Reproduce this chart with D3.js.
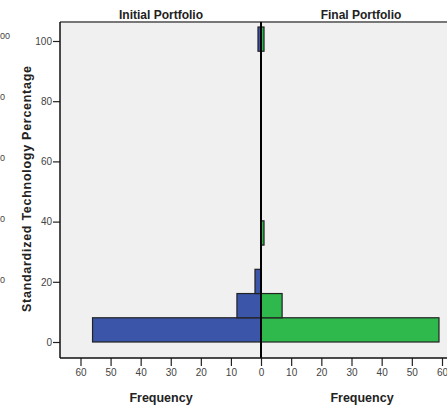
<!DOCTYPE html>
<html><head><meta charset="utf-8">
<script src="https://cdn.jsdelivr.net/npm/d3@7"></script>
<style>body{margin:0;background:#fff}svg{display:block}text{font-family:"Liberation Sans",Arial,sans-serif}</style>
</head><body>
<svg id="c" width="447" height="407"></svg>
<script>
// Data
const binStarts = [0, 8.05, 16.1, 32.2, 96.6];
const binWidth = 8.05;
const initialFreq = [56, 8, 2, 0, 1];
const finalFreq = [59, 7, 0, 1, 1];
const yTicks = [0, 20, 40, 60, 80, 100];
const xTicks = [0, 10, 20, 30, 40, 50, 60];
const panelTitles = ["Initial Portfolio", "Final Portfolio"];
const ghostLabels = ["00", "0", "0", "0", "0"]; // visible remains of a neighbouring panel's labels

const svg = d3.select("#c");
const plotL = 60, plotT = 22, plotB = 358, plotR = 447, cx = 261;

const y = d3.scaleLinear().domain([0, 100]).range([342, 41]);
const xL = d3.scaleLinear().domain([0, 60]).range([cx, 80.5]);
const xR = d3.scaleLinear().domain([0, 60]).range([cx, 442]);

// ghost labels of neighbouring panel (cropped)
svg.append("g").selectAll("text").data(ghostLabels).join("text")
  .attr("x", 0).attr("y", (d, i) => 39 + i * 61)
  .attr("font-size", 9).attr("fill", "#444").text(d => d);

// plot background
svg.append("rect").attr("x", plotL).attr("y", plotT).attr("width", plotR - plotL + 5).attr("height", plotB - plotT)
  .attr("fill", "#f0f0f0");

// title strip line
svg.append("line").attr("x1", plotL).attr("x2", plotR + 5).attr("y1", plotT).attr("y2", plotT)
  .attr("stroke", "#777").attr("stroke-width", 2);

// panel titles
svg.append("text").attr("x", 161).attr("y", 19).attr("text-anchor", "middle")
  .attr("font-size", 12).attr("font-weight", "bold").attr("fill", "#222").text(panelTitles[0]);
svg.append("text").attr("x", 361).attr("y", 19).attr("text-anchor", "middle")
  .attr("font-size", 12).attr("font-weight", "bold").attr("fill", "#222").text(panelTitles[1]);

const bins = binStarts.map((s, i) => ({s, a: initialFreq[i], b: finalFreq[i]}));

// Initial (blue, left)
svg.append("g").selectAll("rect").data(bins.filter(d => d.a > 0)).join("rect")
  .attr("x", d => xL(d.a)).attr("width", d => cx - xL(d.a))
  .attr("y", d => y(d.s + binWidth)).attr("height", d => y(d.s) - y(d.s + binWidth))
  .attr("fill", "#3b55a9").attr("stroke", "#222").attr("stroke-width", 1.2);

// Final (green, right)
svg.append("g").selectAll("rect").data(bins.filter(d => d.b > 0)).join("rect")
  .attr("x", cx).attr("width", d => xR(d.b) - cx)
  .attr("y", d => y(d.s + binWidth)).attr("height", d => y(d.s) - y(d.s + binWidth))
  .attr("fill", "#2fb84b").attr("stroke", "#222").attr("stroke-width", 1.2);

// center line
svg.append("line").attr("x1", cx).attr("x2", cx).attr("y1", plotT).attr("y2", plotB)
  .attr("stroke", "#000").attr("stroke-width", 2);

// y axis
const ya = svg.append("g").attr("transform", `translate(${plotL},0)`)
  .call(d3.axisLeft(y).tickValues(yTicks).tickSize(7).tickPadding(1).tickSizeOuter(0));
ya.select(".domain").remove();
ya.selectAll("line").attr("stroke", "#222").attr("stroke-width", 1.2);
ya.selectAll("text").attr("font-size", 10).attr("fill", "#444").attr("font-family", "Liberation Sans, Arial, sans-serif");
svg.append("line").attr("x1", plotL).attr("x2", plotL).attr("y1", plotT).attr("y2", plotB)
  .attr("stroke", "#111").attr("stroke-width", 1.5);

// x axes
function styleX(g) {
  g.select(".domain").remove();
  g.selectAll("line").attr("stroke", "#222").attr("stroke-width", 1.2);
  g.selectAll("text").attr("font-size", 10).attr("fill", "#444").attr("font-family", "Liberation Sans, Arial, sans-serif");
}
svg.append("g").attr("transform", `translate(0,${plotB})`)
  .call(d3.axisBottom(xL).tickValues(xTicks).tickSize(8).tickPadding(3)).call(styleX);
svg.append("g").attr("transform", `translate(0,${plotB})`)
  .call(d3.axisBottom(xR).tickValues(xTicks.slice(1)).tickSize(8).tickPadding(3)).call(styleX);
svg.append("line").attr("x1", plotL).attr("x2", plotR + 5).attr("y1", plotB).attr("y2", plotB)
  .attr("stroke", "#111").attr("stroke-width", 1.5);

// axis titles
svg.append("text").attr("x", 161).attr("y", 402).attr("text-anchor", "middle")
  .attr("font-size", 12.5).attr("font-weight", "bold").attr("fill", "#222").text("Frequency");
svg.append("text").attr("x", 362).attr("y", 402).attr("text-anchor", "middle")
  .attr("font-size", 12.5).attr("font-weight", "bold").attr("fill", "#222").text("Frequency");
svg.append("text").attr("transform", "translate(31,189) rotate(-90)").attr("text-anchor", "middle")
  .attr("font-size", 12.5).attr("font-weight", "bold").attr("fill", "#222")
  .attr("textLength", 246).attr("lengthAdjust", "spacing")
  .text("Standardized Technology Percentage");
</script>
</body></html>
